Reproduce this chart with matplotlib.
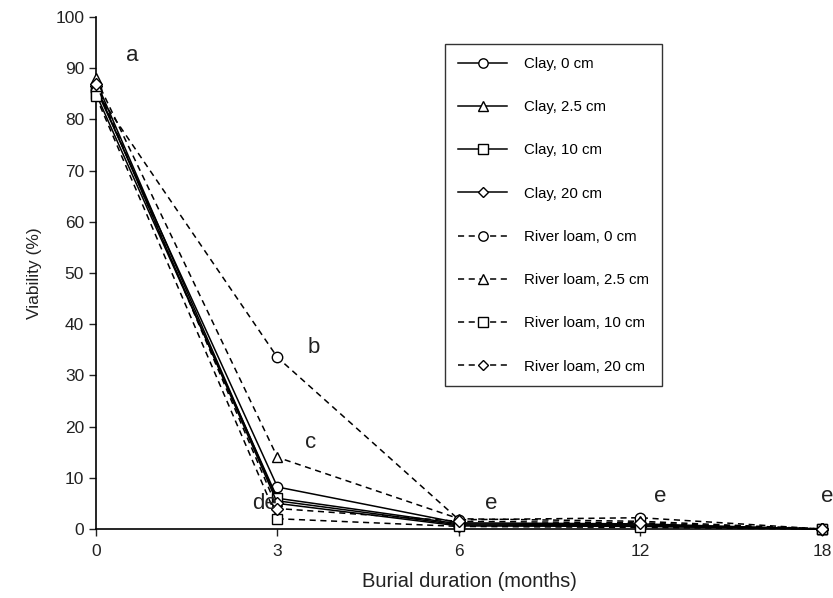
import matplotlib
matplotlib.use('Agg')
import matplotlib.pyplot as plt

plt.rcParams['font.family'] = ['Liberation Sans', 'DejaVu Sans']

# burial duration (months) shown as evenly spaced categories
months = ['0', '3', '6', '12', '18']

# viability (%)
clay_0 = [86, 8.2, 1.2, 1.0, 0]
clay_25 = [87.5, 5.5, 0.8, 0.6, 0]
clay_10 = [85, 6.0, 1.0, 0.8, 0]
clay_20 = [86.5, 5.0, 0.6, 0.5, 0]
loam_0 = [85.5, 33.5, 1.8, 2.2, 0]
loam_25 = [88, 14, 2.0, 1.5, 0]
loam_10 = [84.5, 2.0, 0.5, 0.3, 0]
loam_20 = [87, 4.0, 1.5, 1.2, 0]

labels = ['Clay, 0 cm', 'Clay, 2.5 cm', 'Clay, 10 cm', 'Clay, 20 cm',
          'River loam, 0 cm', 'River loam, 2.5 cm', 'River loam, 10 cm',
          'River loam, 20 cm']

# significance letters
letter_x = [0.2, 1.2, 1.18, 0.93, 2.18, 3.11, 4.03]
letter_y = [92.5, 35.5, 16.8, 5.0, 5.0, 6.3, 6.3]
letter_txt = ['a', 'b', 'c', 'de', 'e', 'e', 'e']

series = [clay_0, clay_25, clay_10, clay_20, loam_0, loam_25, loam_10, loam_20]
markers = ['o', '^', 's', 'D', 'o', '^', 's', 'D']
styles = ['-'] * 4 + ['--'] * 4

fig = plt.figure(figsize=(8.33, 5.98), dpi=100)
ax = fig.add_axes([0.1152, 0.1154, 0.8716, 0.8562])

xpos = range(len(months))
for vals, mk, ls, lab in zip(series, markers, styles, labels):
    ms = 6 if mk == 'D' else 7.5
    line, = ax.plot(xpos, vals, color='black', linewidth=1.1, marker=mk,
                    markersize=ms, markerfacecolor='white',
                    markeredgecolor='black', markeredgewidth=1.0,
                    linestyle=ls, label=lab, clip_on=False, zorder=3)
    if ls == '--':
        line.set_dashes((4, 3))

for x, y, t in zip(letter_x, letter_y, letter_txt):
    ax.text(x, y, t, fontsize=16, ha='center', va='center', clip_on=False,
            color='#222222')

ax.set_xlim(0, 4)
ax.set_ylim(0, 100)
ax.set_xticks(list(xpos))
ax.set_xticklabels(months)
ax.set_yticks(range(0, 101, 10))
ax.tick_params(labelsize=12.5, direction='out', length=5, width=1, colors='#222222')
ax.tick_params(axis='x', pad=6)
for s in ['top', 'right']:
    ax.spines[s].set_visible(False)
for s in ['left', 'bottom']:
    ax.spines[s].set_linewidth(1.2)

ax.set_xlabel('Burial duration (months)', fontsize=14.5, color='#222222')
ax.xaxis.label.set_va('center')
ax.xaxis.set_label_coords(0.515, -0.1035)
ax.set_ylabel('Viability (%)', fontsize=12.5, color='#222222')
ax.yaxis.set_label_coords(-0.075, 0.5)

leg = ax.legend(loc='upper left', bbox_to_anchor=(0.481, 0.947), fontsize=10.8,
                handlelength=3.3, labelspacing=1.95, frameon=True, fancybox=False,
                edgecolor='black', borderpad=0.85, handletextpad=1.1,
                borderaxespad=0, markerscale=0.9)
leg.get_frame().set_linewidth(1.0)

plt.savefig('out.png', dpi=100)
